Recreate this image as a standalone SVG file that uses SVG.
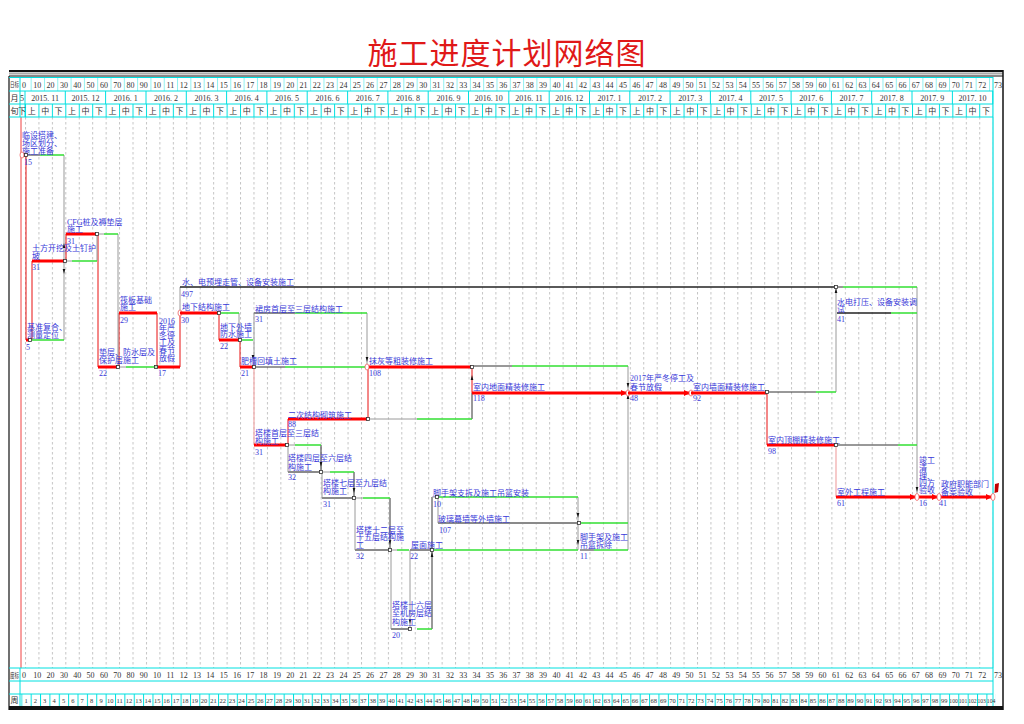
<svg xmlns="http://www.w3.org/2000/svg" width="1024" height="724" viewBox="0 0 1024 724">
<style>
.t{font-family:"Liberation Serif","Noto Sans CJK SC",serif;font-size:8px;fill:#3838d8}
.h{font-family:"Liberation Serif","Noto Sans CJK SC",serif;font-size:8px;fill:#333}
.hs{font-family:"Liberation Serif","Noto Sans CJK SC",serif;font-size:6.5px;fill:#333}
.cr{stroke:#ff0000;stroke-width:3;fill:none}
.ga{stroke:#8a8a8a;stroke-width:2;fill:none}
.ba{stroke:#222;stroke-width:1.3;fill:none}
.cl{stroke:#e81010;stroke-width:1;fill:none}
.pk{stroke:#f0a8a8;stroke-width:1.2;fill:none}
.gl{stroke:#9a9a9a;stroke-width:1;fill:none}
.bl{stroke:#333;stroke-width:1;fill:none}
.fl{stroke:#33e033;stroke-width:1.5;fill:none}
.cy{stroke:#00e0e0;stroke-width:1;fill:none}
.nd{fill:#fff;stroke:#333;stroke-width:0.8}
.ne{fill:#fff;stroke:#f06060;stroke-width:0.8}
</style>
<defs>
<marker id="ar" markerWidth="6" markerHeight="6" refX="5" refY="3" orient="auto" markerUnits="userSpaceOnUse"><path d="M0,0 L6,3 L0,6 z" fill="#ff0000"/></marker>
<path id="ad" d="M-1.3,-5 L1.3,-5 L0,0 z" fill="#111"/>
<pattern id="gd" x="25" y="117" width="13.44" height="5" patternUnits="userSpaceOnUse"><line x1="0.5" y1="0" x2="0.5" y2="2.5" stroke="#c4c4c4" stroke-width="1"/></pattern>
<pattern id="xn" x="25" y="104" width="13.44" height="13" patternUnits="userSpaceOnUse"><line x1="0.5" y1="0" x2="0.5" y2="13" stroke="#00e0e0" stroke-width="1"/></pattern>
<pattern id="r1" x="30.65" y="77" width="13.31" height="14" patternUnits="userSpaceOnUse"><line x1="0.5" y1="0" x2="0.5" y2="14" stroke="#90f0f0" stroke-width="1"/></pattern>
<pattern id="wk" x="21.3" y="694" width="9.37" height="12" patternUnits="userSpaceOnUse"><line x1="0.5" y1="0" x2="0.5" y2="12" stroke="#00e0e0" stroke-width="1"/></pattern>
</defs>
<rect width="1024" height="724" fill="#fff"/>
<text x="507" y="64" text-anchor="middle" style="font-family:'Noto Sans CJK SC',sans-serif;font-size:30px;fill:#e01818;letter-spacing:1px">施工进度计划网络图</text>

<g id="frame">
<rect x="9" y="70" width="994" height="2.2" fill="#111"/>
<line x1="9" y1="73.8" x2="1003" y2="73.8" stroke="#aaa" stroke-width="1.5"/>
<line x1="9" y1="76" x2="1003" y2="76" stroke="#111" stroke-width="1"/>
<line x1="9" y1="76" x2="9" y2="710" stroke="#111" stroke-width="1.2"/>
<line x1="1003" y1="70" x2="1003" y2="710" stroke="#111" stroke-width="1.5"/>
<rect x="9" y="706" width="994" height="4" fill="#111"/>
</g>

<g id="grid">
<rect x="25" y="117" width="968" height="551" fill="url(#gd)"/>
<line x1="21" y1="117" x2="21" y2="668" stroke="#f04040" stroke-width="1"/>
<line x1="993" y1="117" x2="993" y2="668" stroke="#a0f0f0" stroke-width="1"/>
</g>

<g id="header">
<rect x="25" y="77" width="968" height="14" fill="url(#r1)"/>
<rect x="25" y="104" width="968" height="13" fill="url(#xn)"/>
<rect x="21.3" y="694" width="974" height="12" fill="url(#wk)"/>
<path class="cy" d="M9,77.5H993M9,91H993M9,104H993M9,117H993M20,77V117M993,77V706M9,668H993M9,681H993M9,694H993M20,668V706"/>
<path class="cy" d="M25,91V117M65.3,91V104M105.6,91V104M146,91V104M186.3,91V104M226.6,91V104M266.9,91V104M307.2,91V104M347.6,91V104M387.9,91V104M428.2,91V104M468.5,91V104M508.8,91V104M549.2,91V104M589.5,91V104M629.8,91V104M670.1,91V104M710.4,91V104M750.8,91V104M791.1,91V104M831.4,91V104M871.7,91V104M912,91V104M952.4,91V104M992.7,91V104"/>
<text class="hs" x="10" y="87" textLength="9" lengthAdjust="spacingAndGlyphs">日标</text>
<text class="h" x="14.5" y="100.5" text-anchor="middle">月</text>
<text class="h" x="14.5" y="113.5" text-anchor="middle">旬</text>
<text class="hs" x="10" y="678" textLength="9" lengthAdjust="spacingAndGlyphs">度标</text>
<text class="h" x="14.5" y="703" text-anchor="middle">周</text>
<g text-anchor="middle" class="h">
<text x="24" y="88">0</text><text x="37.3" y="88">10</text><text x="50.6" y="88">20</text><text x="63.9" y="88">30</text><text x="77.2" y="88">40</text><text x="90.6" y="88">50</text><text x="103.9" y="88">60</text><text x="117.2" y="88">70</text><text x="130.5" y="88">80</text><text x="143.8" y="88">90</text><text x="157.1" y="88">10</text><text x="170.4" y="88">11</text><text x="183.7" y="88">12</text><text x="197" y="88">13</text><text x="210.3" y="88">14</text><text x="223.7" y="88">15</text><text x="237" y="88">16</text><text x="250.3" y="88">17</text><text x="263.6" y="88">18</text><text x="276.9" y="88">19</text><text x="290.2" y="88">20</text><text x="303.5" y="88">21</text><text x="316.8" y="88">22</text><text x="330.1" y="88">23</text><text x="343.4" y="88">24</text><text x="356.8" y="88">25</text><text x="370.1" y="88">26</text><text x="383.4" y="88">27</text><text x="396.7" y="88">28</text><text x="410" y="88">29</text><text x="423.3" y="88">30</text><text x="436.6" y="88">31</text><text x="449.9" y="88">32</text><text x="463.2" y="88">33</text><text x="476.5" y="88">34</text><text x="489.9" y="88">35</text><text x="503.2" y="88">36</text><text x="516.5" y="88">37</text><text x="529.8" y="88">38</text><text x="543.1" y="88">39</text><text x="556.4" y="88">40</text><text x="569.7" y="88">41</text><text x="583" y="88">42</text><text x="596.3" y="88">43</text><text x="609.6" y="88">44</text><text x="623" y="88">45</text><text x="636.3" y="88">46</text><text x="649.6" y="88">47</text><text x="662.9" y="88">48</text><text x="676.2" y="88">49</text><text x="689.5" y="88">50</text><text x="702.8" y="88">51</text><text x="716.1" y="88">52</text><text x="729.4" y="88">53</text><text x="742.7" y="88">54</text><text x="756.1" y="88">55</text><text x="769.4" y="88">56</text><text x="782.7" y="88">57</text><text x="796" y="88">58</text><text x="809.3" y="88">59</text><text x="822.6" y="88">60</text><text x="835.9" y="88">61</text><text x="849.2" y="88">62</text><text x="862.5" y="88">63</text><text x="875.8" y="88">64</text><text x="889.2" y="88">65</text><text x="902.5" y="88">66</text><text x="915.8" y="88">67</text><text x="929.1" y="88">68</text><text x="942.4" y="88">69</text><text x="955.7" y="88">70</text><text x="969" y="88">71</text><text x="982.3" y="88">72</text><text x="998" y="88">73</text>
</g>
<g text-anchor="middle" class="h">
<text x="22" y="100.5">5</text><text x="45.2" y="100.5">2015. 11</text><text x="85.5" y="100.5">2015. 12</text><text x="125.8" y="100.5">2016. 1</text><text x="166.1" y="100.5">2016. 2</text><text x="206.5" y="100.5">2016. 3</text><text x="246.8" y="100.5">2016. 4</text><text x="287.1" y="100.5">2016. 5</text><text x="327.4" y="100.5">2016. 6</text><text x="367.7" y="100.5">2016. 7</text><text x="408" y="100.5">2016. 8</text><text x="448.4" y="100.5">2016. 9</text><text x="488.7" y="100.5">2016. 10</text><text x="529" y="100.5">2016. 11</text><text x="569.3" y="100.5">2016. 12</text><text x="609.6" y="100.5">2017. 1</text><text x="649.9" y="100.5">2017. 2</text><text x="690.3" y="100.5">2017. 3</text><text x="730.6" y="100.5">2017. 4</text><text x="770.9" y="100.5">2017. 5</text><text x="811.2" y="100.5">2017. 6</text><text x="851.5" y="100.5">2017. 7</text><text x="891.8" y="100.5">2017. 8</text><text x="932.2" y="100.5">2017. 9</text><text x="972.5" y="100.5">2017. 10</text>
</g>
<text class="h" text-anchor="middle" y="113.5" x="22 31.7 45.2 58.6 72 85.5 98.9 112.4 125.8 139.2 152.7 166.1 179.6 193 206.4 219.9 233.3 246.8 260.2 273.6 287.1 300.5 314 327.4 340.8 354.3 367.7 381.2 394.6 408 421.5 434.9 448.4 461.8 475.2 488.7 502.1 515.6 529 542.4 555.9 569.3 582.8 596.2 609.6 623.1 636.5 650 663.4 676.8 690.3 703.7 717.2 730.6 744 757.5 770.9 784.4 797.8 811.2 824.7 838.1 851.6 865 878.4 891.9 905.3 918.8 932.2 945.6 959.1 972.5 986">下上中下上中下上中下上中下上中下上中下上中下上中下上中下上中下上中下上中下上中下上中下上中下上中下上中下上中下上中下上中下上中下上中下上中下上中下</text>
<g text-anchor="middle" class="h">
<text x="24" y="678">0</text><text x="37.3" y="678">10</text><text x="50.6" y="678">20</text><text x="63.9" y="678">30</text><text x="77.2" y="678">40</text><text x="90.6" y="678">50</text><text x="103.9" y="678">60</text><text x="117.2" y="678">70</text><text x="130.5" y="678">80</text><text x="143.8" y="678">90</text><text x="157.1" y="678">10</text><text x="170.4" y="678">11</text><text x="183.7" y="678">12</text><text x="197" y="678">13</text><text x="210.3" y="678">14</text><text x="223.7" y="678">15</text><text x="237" y="678">16</text><text x="250.3" y="678">17</text><text x="263.6" y="678">18</text><text x="276.9" y="678">19</text><text x="290.2" y="678">20</text><text x="303.5" y="678">21</text><text x="316.8" y="678">22</text><text x="330.1" y="678">23</text><text x="343.4" y="678">24</text><text x="356.8" y="678">25</text><text x="370.1" y="678">26</text><text x="383.4" y="678">27</text><text x="396.7" y="678">28</text><text x="410" y="678">29</text><text x="423.3" y="678">30</text><text x="436.6" y="678">31</text><text x="449.9" y="678">32</text><text x="463.2" y="678">33</text><text x="476.5" y="678">34</text><text x="489.9" y="678">35</text><text x="503.2" y="678">36</text><text x="516.5" y="678">37</text><text x="529.8" y="678">38</text><text x="543.1" y="678">39</text><text x="556.4" y="678">40</text><text x="569.7" y="678">41</text><text x="583" y="678">42</text><text x="596.3" y="678">43</text><text x="609.6" y="678">44</text><text x="623" y="678">45</text><text x="636.3" y="678">46</text><text x="649.6" y="678">47</text><text x="662.9" y="678">48</text><text x="676.2" y="678">49</text><text x="689.5" y="678">50</text><text x="702.8" y="678">51</text><text x="716.1" y="678">52</text><text x="729.4" y="678">53</text><text x="742.7" y="678">54</text><text x="756.1" y="678">55</text><text x="769.4" y="678">56</text><text x="782.7" y="678">57</text><text x="796" y="678">58</text><text x="809.3" y="678">59</text><text x="822.6" y="678">60</text><text x="835.9" y="678">61</text><text x="849.2" y="678">62</text><text x="862.5" y="678">63</text><text x="875.8" y="678">64</text><text x="889.2" y="678">65</text><text x="902.5" y="678">66</text><text x="915.8" y="678">67</text><text x="929.1" y="678">68</text><text x="942.4" y="678">69</text><text x="955.7" y="678">70</text><text x="969" y="678">71</text><text x="982.3" y="678">72</text><text x="998" y="678">73</text>
</g>
<g text-anchor="middle" class="hs">
<text x="26" y="703">1</text><text x="35.4" y="703">2</text><text x="44.7" y="703">3</text><text x="54.1" y="703">4</text><text x="63.5" y="703">5</text><text x="72.9" y="703">6</text><text x="82.2" y="703">7</text><text x="91.6" y="703">8</text><text x="101" y="703">9</text><text x="110.3" y="703">10</text><text x="119.7" y="703">11</text><text x="129.1" y="703">12</text><text x="138.4" y="703">13</text><text x="147.8" y="703">14</text><text x="157.2" y="703">15</text><text x="166.6" y="703">16</text><text x="175.9" y="703">17</text><text x="185.3" y="703">18</text><text x="194.7" y="703">19</text><text x="204" y="703">20</text><text x="213.4" y="703">21</text><text x="222.8" y="703">22</text><text x="232.1" y="703">23</text><text x="241.5" y="703">24</text><text x="250.9" y="703">25</text><text x="260.3" y="703">26</text><text x="269.6" y="703">27</text><text x="279" y="703">28</text><text x="288.4" y="703">29</text><text x="297.7" y="703">30</text><text x="307.1" y="703">31</text><text x="316.5" y="703">32</text><text x="325.8" y="703">33</text><text x="335.2" y="703">34</text><text x="344.6" y="703">35</text><text x="354" y="703">36</text><text x="363.3" y="703">37</text><text x="372.7" y="703">38</text><text x="382.1" y="703">39</text><text x="391.4" y="703">40</text><text x="400.8" y="703">41</text><text x="410.2" y="703">42</text><text x="419.5" y="703">43</text><text x="428.9" y="703">44</text><text x="438.3" y="703">45</text><text x="447.7" y="703">46</text><text x="457" y="703">47</text><text x="466.4" y="703">48</text><text x="475.8" y="703">49</text><text x="485.1" y="703">50</text><text x="494.5" y="703">51</text><text x="503.9" y="703">52</text><text x="513.2" y="703">53</text><text x="522.6" y="703">54</text><text x="532" y="703">55</text><text x="541.4" y="703">56</text><text x="550.7" y="703">57</text><text x="560.1" y="703">58</text><text x="569.5" y="703">59</text><text x="578.8" y="703">60</text><text x="588.2" y="703">61</text><text x="597.6" y="703">62</text><text x="606.9" y="703">63</text><text x="616.3" y="703">64</text><text x="625.7" y="703">65</text><text x="635.1" y="703">66</text><text x="644.4" y="703">67</text><text x="653.8" y="703">68</text><text x="663.2" y="703">69</text><text x="672.5" y="703">70</text><text x="681.9" y="703">71</text><text x="691.3" y="703">72</text><text x="700.6" y="703">73</text><text x="710" y="703">74</text><text x="719.4" y="703">75</text><text x="728.8" y="703">76</text><text x="738.1" y="703">77</text><text x="747.5" y="703">78</text><text x="756.9" y="703">79</text><text x="766.2" y="703">80</text><text x="775.6" y="703">81</text><text x="785" y="703">82</text><text x="794.3" y="703">83</text><text x="803.7" y="703">84</text><text x="813.1" y="703">85</text><text x="822.5" y="703">86</text><text x="831.8" y="703">87</text><text x="841.2" y="703">88</text><text x="850.6" y="703">89</text><text x="859.9" y="703">90</text><text x="869.3" y="703">91</text><text x="878.7" y="703">92</text><text x="888" y="703">93</text><text x="897.4" y="703">94</text><text x="906.8" y="703">95</text><text x="916.2" y="703">96</text><text x="925.5" y="703">97</text><text x="934.9" y="703">98</text><text x="944.3" y="703">99</text><text x="953.6" y="703" textLength="8.5" lengthAdjust="spacingAndGlyphs">100</text><text x="963" y="703" textLength="8.5" lengthAdjust="spacingAndGlyphs">101</text><text x="972.4" y="703" textLength="8.5" lengthAdjust="spacingAndGlyphs">102</text><text x="981.7" y="703" textLength="8.5" lengthAdjust="spacingAndGlyphs">103</text><text x="991.1" y="703" textLength="8.5" lengthAdjust="spacingAndGlyphs">104</text>
</g>
</g>

<g id="connectors">
<path class="cl" d="M26,155V340M32,261V340M66,234V261M98,234V367M119,313V367M157,313V367M180,313V367M219,313V340M240,340V367M368,367V419M472,367V393M288,419V445M767,392V445"/>
<path class="pk" d="M254,367V445M836,445V497"/>
<path class="gl" d="M64,155V340M97,234V261M118,234V367M180,287V313M239,313V340M254,313V367M367,313V367M628,366V550M836,287V392M917,287V497M288,445V472M322,472V498M355,498V550M391,550V629M410,550V629M438,497V523M578,497V550"/>
<path class="bl" d="M472,393V419M321,445V472M354,472V498M390,498V550M432,497V629"/>
<path class="bl" d="M27,155H40M256,367H285M474,366H512M769,392H816M838,287H843M838,445H898M580,550H594"/>
<path class="gl" d="M67,261H72M99,234H104M120,367H126M370,419H417M289,445H295M323,472H330M356,498H363M392,550H397M432,497H437"/>
<path class="fl" d="M40,155H64M32,340H64M72,261H97M104,234H118M126,367H155M221,313H239M242,340H253M285,367H366M295,313H367M512,366H628M816,392H836M843,287H917M891,313H917M898,445H917M417,419H472M295,445H321M330,472H354M363,498H390M397,550H409M417,629H432M434,550H578M439,497H578M581,523H628M594,550H628"/>
<use href="#ad" x="64" y="253" transform="rotate(180 64 248)"/>
<use href="#ad" x="64" y="274"/>
<use href="#ad" x="253" y="360"/>
<use href="#ad" x="367" y="362"/>
<use href="#ad" x="472" y="385" transform="rotate(180 472 380)"/>
<use href="#ad" x="628" y="388"/>
<use href="#ad" x="628" y="404" transform="rotate(180 628 399)"/>
<use href="#ad" x="836" y="298" transform="rotate(180 836 293)"/>
<use href="#ad" x="917" y="492"/>
<use href="#ad" x="321" y="467"/>
<use href="#ad" x="354" y="493"/>
<use href="#ad" x="390" y="545"/>
<use href="#ad" x="410" y="624"/>
<use href="#ad" x="432" y="562" transform="rotate(180 432 557)"/>
<use href="#ad" x="578" y="518"/>
<use href="#ad" x="578" y="545"/>
</g>

<g id="n-linshe"><path class="cr" d="M21,155H27"/><text class="t" x="22" y="138">临设搭建、</text><text class="t" x="22" y="146">场区划分、</text><text class="t" x="22" y="154">施工准备</text><text class="t" x="24" y="165">15</text><ellipse class="ne" cx="22" cy="155" rx="2" ry="3"/><rect class="nd" x="24.5" y="153.5" width="3" height="3"/></g>
<g id="n-jizhun"><path class="cr" d="M26,340H30"/><text class="t" x="27" y="330">基准复合、</text><text class="t" x="27" y="338">测量定位</text><text class="t" x="26" y="350">5</text><rect class="nd" x="28.5" y="338.5" width="3" height="3"/></g>
<g id="n-tufang"><path class="cr" d="M32,261H65"/><text class="t" x="32" y="251">土方开挖及土钉护</text><text class="t" x="32" y="259">坡</text><text class="t" x="32" y="270">31</text><rect class="nd" x="63.5" y="259.5" width="3" height="3"/></g>
<g id="n-cfg"><path class="cr" d="M66,234H97"/><text class="t" x="67" y="225">CFG桩及褥垫层</text><text class="t" x="67" y="232">施工</text><text class="t" x="67" y="244">31</text><rect class="nd" x="95.5" y="232.5" width="3" height="3"/></g>
<g id="n-dianceng"><path class="cr" d="M98,367H118"/><text class="t" x="99" y="355">垫层、防水层及</text><text class="t" x="99" y="363">保护层施工</text><text class="t" x="99" y="376">22</text><rect class="nd" x="116.5" y="365.5" width="3" height="3"/></g>
<g id="n-faban"><path class="cr" d="M119,313H157"/><text class="t" x="120" y="303">筏板基础</text><text class="t" x="120" y="310">施工</text><text class="t" x="120" y="323">29</text></g>
<g id="n-ting2016"><path class="cr" d="M157,367H180"/><text class="t" x="159" y="324">2016</text><text class="t" x="159" y="331">年严</text><text class="t" x="159" y="338">冬停</text><text class="t" x="159" y="345">工及</text><text class="t" x="159" y="353">春节</text><text class="t" x="159" y="361">放假</text><text class="t" x="158" y="376">17</text><rect x="154.5" y="365.5" width="3" height="3" fill="#bfe8bf" stroke="#333" stroke-width="0.8"/><ellipse class="ne" cx="180" cy="313" rx="2" ry="3"/></g>
<g id="n-shuidian"><path class="ba" d="M180,287H836"/><text class="t" x="182" y="285">水、电预埋走管、设备安装施工</text><text class="t" x="181" y="297">497</text></g>
<g id="n-dixia"><path class="cr" d="M180,313H219"/><text class="t" x="182" y="310">地下结构施工</text><text class="t" x="181" y="323">30</text><rect class="nd" x="217.5" y="311.5" width="3" height="3"/></g>
<g id="n-waiqiang"><path class="cr" d="M219,340H240"/><text class="t" x="220" y="330">地下外墙</text><text class="t" x="220" y="337">防水施工</text><text class="t" x="220" y="349">22</text><rect class="nd" x="238.5" y="338.5" width="3" height="3"/></g>
<g id="n-feicao"><path class="cr" d="M240,367H254"/><text class="t" x="241" y="364">肥槽回填土施工</text><text class="t" x="241" y="376">21</text><rect class="nd" x="252.5" y="365.5" width="3" height="3"/></g>
<g id="n-qunfang"><path class="ga" d="M254,313H295"/><text class="t" x="255" y="312">裙房首层至三层结构施工</text><text class="t" x="255" y="322">31</text></g>
<g id="n-mohui"><path class="cr" d="M367,367H472"/><text class="t" x="369" y="364">抹灰等粗装修施工</text><text class="t" x="369" y="376">108</text><ellipse class="ne" cx="367" cy="367" rx="2" ry="3"/><rect class="nd" x="470.5" y="365.5" width="3" height="3"/></g>
<g id="n-dimian"><path class="cr" d="M472,393H626" marker-end="url(#ar)"/><text class="t" x="473" y="390">室内地面精装修施工</text><text class="t" x="473" y="401">118</text><ellipse class="ne" cx="628" cy="393" rx="2" ry="3"/></g>
<g id="n-ting2017"><path class="cr" d="M628,393H689" marker-end="url(#ar)"/><text class="t" x="630" y="381">2017年严冬停工及</text><text class="t" x="630" y="390">春节放假</text><text class="t" x="630" y="401">48</text><ellipse class="ne" cx="691" cy="393" rx="2" ry="3"/></g>
<g id="n-qiangmian"><path class="cr" d="M691,393H767"/><text class="t" x="693" y="390">室内墙面精装修施工</text><text class="t" x="693" y="401">92</text><rect class="nd" x="765.5" y="390.5" width="3" height="3"/></g>
<g id="n-daya"><path class="ba" d="M837,313H891"/><text class="t" x="837" y="305">水电打压、设备安装调</text><text class="t" x="837" y="312">试</text><text class="t" x="837" y="322">41</text><rect class="nd" x="834.5" y="285.5" width="3" height="3"/></g>
<g id="n-dingpeng"><path class="cr" d="M767,445H836"/><text class="t" x="768" y="443">室内顶棚精装修施工</text><text class="t" x="768" y="454">98</text><rect class="nd" x="834.5" y="443.5" width="3" height="3"/></g>
<g id="n-shiwai"><path class="cr" d="M836,497H915" marker-end="url(#ar)"/><text class="t" x="837" y="495">室外工程施工</text><text class="t" x="837" y="506">61</text></g>
<g id="n-jungong"><path class="cr" d="M917,497H937" marker-end="url(#ar)"/><text class="t" x="919" y="463">竣工</text><text class="t" x="919" y="471">清</text><text class="t" x="919" y="479">理、</text><text class="t" x="919" y="486">四方</text><text class="t" x="919" y="493">验收</text><text class="t" x="919" y="506">16</text><ellipse class="ne" cx="917" cy="497" rx="2" ry="3.5"/></g>
<g id="n-zhengfu"><path class="cr" d="M939,497H991" marker-end="url(#ar)"/><text class="t" x="941" y="487">政府职能部门</text><text class="t" x="941" y="495">备案验收</text><text class="t" x="939" y="506">41</text><ellipse class="ne" cx="939" cy="497" rx="2" ry="3.5"/><ellipse class="ne" cx="993" cy="497" rx="2" ry="3.5"/><path d="M995,484L999,483L998,492L994.5,493z" fill="#c00000"/></g>
<g id="n-erci"><path class="cr" d="M288,419H368"/><text class="t" x="288" y="418">二次结构砌筑施工</text><text class="t" x="288" y="427">88</text><rect class="nd" x="366.5" y="417.5" width="3" height="3"/></g>
<g id="n-talou1"><path class="cr" d="M254,445H287"/><text class="t" x="255" y="436">塔楼首层至三层结</text><text class="t" x="255" y="444">构施工</text><text class="t" x="255" y="455">31</text><rect class="nd" x="285.5" y="443.5" width="3" height="3"/></g>
<g id="n-talou4"><path class="ga" d="M288,472H321"/><text class="t" x="288" y="461">塔楼四层至六层结</text><text class="t" x="288" y="470">构施工</text><text class="t" x="288" y="480">32</text><rect class="nd" x="319.5" y="470.5" width="3" height="3"/></g>
<g id="n-talou7"><path class="ga" d="M322,498H354"/><text class="t" x="323" y="486">塔楼七层至九层结</text><text class="t" x="323" y="494">构施工</text><text class="t" x="323" y="507">31</text><rect class="nd" x="352.5" y="496.5" width="3" height="3"/></g>
<g id="n-talou12"><path class="ga" d="M355,550H390"/><text class="t" x="356" y="533">塔楼十二层至</text><text class="t" x="356" y="540">十五层结构施</text><text class="t" x="356" y="548">工</text><text class="t" x="356" y="559">32</text><rect class="nd" x="388.5" y="548.5" width="3" height="3"/></g>
<g id="n-talou16"><path class="ga" d="M391,629H410"/><text class="t" x="392" y="608">塔楼十六层</text><text class="t" x="392" y="616">至机房层结</text><text class="t" x="392" y="625">构施工</text><text class="t" x="392" y="638">20</text><rect class="nd" x="408.5" y="627.5" width="3" height="3"/></g>
<g id="n-wumian"><path class="ga" d="M410,550H432"/><text class="t" x="411" y="548">屋面施工</text><text class="t" x="410" y="559">22</text><rect class="nd" x="430.5" y="548.5" width="3" height="3"/></g>
<g id="n-jiaoshou1"><text class="t" x="433" y="495.5">脚手架支拆及施工吊篮安装</text><text class="t" x="433" y="507">10</text><rect class="nd" x="435.5" y="495.5" width="3" height="3"/></g>
<g id="n-boli"><path class="ga" d="M438,523H579"/><text class="t" x="438" y="522">玻璃幕墙等外墙施工</text><text class="t" x="439" y="533">107</text><rect class="nd" x="577.5" y="521.5" width="3" height="3"/></g>
<g id="n-jiaoshou2"><text class="t" x="580" y="540">脚手架及施工</text><text class="t" x="580" y="548">吊篮拆除</text><text class="t" x="580" y="559">11</text></g>
</svg>
